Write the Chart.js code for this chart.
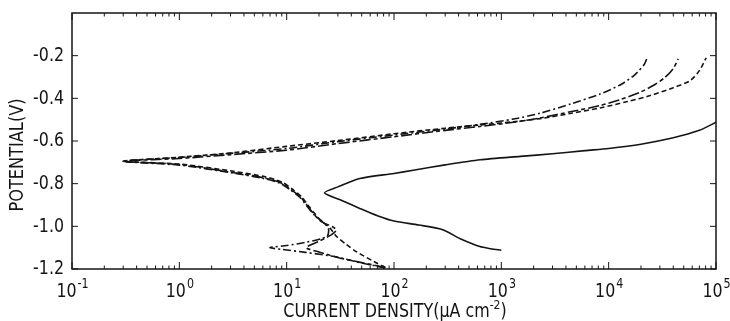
<!DOCTYPE html>
<html>
<head>
<meta charset="utf-8">
<script src="https://cdn.jsdelivr.net/npm/chart.js@4.4.1/dist/chart.umd.min.js"></script>
<style>
  html, body { margin: 0; padding: 0; background: #fff; }
  #wrap { width: 730px; height: 321px; }
</style>
</head>
<body>
<div id="wrap"><canvas id="polChart" width="730" height="321"></canvas></div>
<script>
// Polarization curves: current density (uA cm^-2) vs potential (V)
// Each curve runs from the cathodic end, through Ecorr, to the anodic end.

// dash-dot curve (outer cathodic loop)
const dashDotI = [83, 50, 29.5, 15, 9, 7.0, 10, 15, 21, 24, 24.5, 21.5, 18.2, 15.6, 13.4, 10.9, 8.6, 6, 3, 1, 0.3,
  1, 3, 10, 30, 100, 300, 630, 1300, 2300, 4500, 8300, 13000, 17500, 21500, 23000];
const dashDotE = [-1.195, -1.172, -1.144, -1.122, -1.108, -1.100, -1.090, -1.075, -1.058, -1.045, -1.010, -0.978, -0.948, -0.908, -0.866, -0.830, -0.797, -0.775, -0.748, -0.713, -0.695,
  -0.677, -0.658, -0.635, -0.603, -0.572, -0.544, -0.522, -0.497, -0.470, -0.425, -0.380, -0.335, -0.290, -0.240, -0.205];

// long-dash curve (inner cathodic loop)
const longDashI = [83, 50, 31, 20, 15.2, 20, 26, 29, 27, 21, 18.3, 15.8, 13.6, 11, 8.7, 6, 3, 1, 0.3,
  1, 3, 10, 30, 100, 300, 630, 1300, 2300, 4500, 8300, 13000, 19700, 27000, 33600, 40000, 44500];
const longDashE = [-1.193, -1.170, -1.148, -1.120, -1.100, -1.070, -1.040, -1.018, -1.003, -0.978, -0.948, -0.907, -0.865, -0.828, -0.795, -0.772, -0.746, -0.710, -0.695,
  -0.682, -0.664, -0.643, -0.612, -0.580, -0.550, -0.532, -0.512, -0.492, -0.462, -0.434, -0.405, -0.371, -0.335, -0.301, -0.260, -0.215];

// short-dash curve
const shortDashI = [83, 65, 45, 36, 29.5, 25, 21, 18.6, 16, 13.8, 11.3, 9, 6.3, 3.2, 1, 0.3,
  1, 3, 10, 30, 100, 300, 630, 1300, 2300, 4500, 8300, 15000, 24400, 40000, 57500, 70000, 81000];
const shortDashE = [-1.193, -1.165, -1.120, -1.085, -1.050, -1.005, -0.975, -0.945, -0.905, -0.862, -0.826, -0.792, -0.768, -0.742, -0.708, -0.695,
  -0.676, -0.656, -0.625, -0.598, -0.566, -0.540, -0.525, -0.510, -0.495, -0.470, -0.445, -0.415, -0.387, -0.350, -0.317, -0.270, -0.210];

// solid curve
const solidI = [1000, 800, 630, 430, 280, 170, 100, 70, 48, 33, 22.5,
  30, 48, 100, 151, 300, 634, 1500, 3000, 6000, 10000, 20000, 40000, 70000, 100000];
const solidE = [-1.112, -1.105, -1.095, -1.062, -1.015, -0.994, -0.975, -0.950, -0.916, -0.880, -0.843,
  -0.815, -0.776, -0.752, -0.737, -0.712, -0.688, -0.672, -0.660, -0.645, -0.635, -0.615, -0.585, -0.550, -0.512];

const decadeExps = [-1, 0, 1, 2, 3, 4, 5];
const potentialTicks = [-0.2, -0.4, -0.6, -0.8, -1.0, -1.2];

const FONT = '"Liberation Sans Narrow", "DejaVu Sans Condensed", "Liberation Sans", sans-serif';
const INK = '#141414';

function toPoints(iArr, eArr) {
  return iArr.map((v, k) => ({ x: v, y: eArr[k] }));
}

function curve(iArr, eArr, dash) {
  return {
    data: toPoints(iArr, eArr),
    showLine: true,
    borderColor: INK,
    borderWidth: 1.6,
    borderDash: dash,
    pointRadius: 0,
    tension: 0.25,
    fill: false
  };
}

// text squeezed horizontally, the lettering on this plot is narrow
function squeezed(ctx, text, x, y, size, sx) {
  ctx.save();
  ctx.translate(x, y);
  ctx.scale(sx, 1);
  ctx.font = size + 'px ' + FONT;
  ctx.fillText(text, 0, 0);
  ctx.restore();
}

function textWidth(ctx, text, size, sx) {
  ctx.font = size + 'px ' + FONT;
  return ctx.measureText(text).width * sx;
}

// frame, inward ticks, tick labels and axis titles
const framePlugin = {
  id: 'frame',
  afterDraw(chart) {
    const { ctx, chartArea: a, scales: { x, y } } = chart;
    const seg = (x1, y1, x2, y2) => { ctx.beginPath(); ctx.moveTo(x1, y1); ctx.lineTo(x2, y2); ctx.stroke(); };
    ctx.save();
    ctx.strokeStyle = INK;
    ctx.fillStyle = INK;
    ctx.lineWidth = 1.5;
    ctx.strokeRect(a.left, a.top, a.right - a.left, a.bottom - a.top);

    ctx.lineWidth = 1;
    decadeExps.forEach(p => {
      const base = Math.pow(10, p);
      const px = x.getPixelForValue(base);
      seg(px, a.bottom, px, a.bottom - 7);
      seg(px, a.top, px, a.top + 7);
      if (p < 5) {
        for (let m = 2; m <= 9; m++) {
          const mx = x.getPixelForValue(m * base);
          seg(mx, a.bottom, mx, a.bottom - 3.5);
          seg(mx, a.top, mx, a.top + 3.5);
        }
      }
    });
    potentialTicks.forEach(v => {
      const py = y.getPixelForValue(v);
      seg(a.left, py, a.left + 6, py);
      seg(a.right, py, a.right - 6, py);
    });

    // y tick labels
    ctx.textAlign = 'left';
    ctx.textBaseline = 'middle';
    potentialTicks.forEach(v => {
      const s = v.toFixed(1);
      const w = textWidth(ctx, s, 20, 0.88);
      squeezed(ctx, s, a.left - 8 - w, y.getPixelForValue(v), 20, 0.88);
    });

    // x tick labels, 10 with raised exponent
    ctx.textBaseline = 'alphabetic';
    decadeExps.forEach(p => {
      const px = x.getPixelForValue(Math.pow(10, p));
      const exp = String(p);
      const wBase = textWidth(ctx, '10', 20, 0.88);
      const wExp = textWidth(ctx, exp, 14, 0.88);
      const start = px - (wBase + wExp) / 2;
      squeezed(ctx, '10', start, a.bottom + 28, 20, 0.88);
      squeezed(ctx, exp, start + wBase + 1, a.bottom + 19, 14, 0.88);
    });

    // x axis title with superscript
    const t1 = 'CURRENT DENSITY(\u03bcA cm';
    const t2 = '-2';
    const t3 = ')';
    const w1 = textWidth(ctx, t1, 19, 0.93);
    const w2 = textWidth(ctx, t2, 13, 0.93);
    const w3 = textWidth(ctx, t3, 19, 0.93);
    const cx = (a.left + a.right) / 2 + 1;
    const tx = cx - (w1 + w2 + w3) / 2;
    const base = a.bottom + 48;
    squeezed(ctx, t1, tx, base, 19, 0.93);
    squeezed(ctx, t2, tx + w1, base - 8, 13, 0.93);
    squeezed(ctx, t3, tx + w1 + w2, base, 19, 0.93);

    // y axis title
    ctx.translate(18, 155);
    ctx.rotate(-Math.PI / 2);
    ctx.textBaseline = 'middle';
    const wt = textWidth(ctx, 'POTENTIAL(V)', 20, 0.9);
    squeezed(ctx, 'POTENTIAL(V)', -wt / 2, 0, 20, 0.9);
    ctx.restore();
  }
};

new Chart(document.getElementById('polChart').getContext('2d'), {
  type: 'scatter',
  data: {
    datasets: [
      curve(dashDotI, dashDotE, [8, 3, 2, 3]),
      curve(longDashI, longDashE, [11, 3, 4, 3]),
      curve(shortDashI, shortDashE, [5, 3]),
      curve(solidI, solidE, [])
    ]
  },
  options: {
    responsive: false,
    animation: false,
    devicePixelRatio: 1,
    layout: { padding: { top: 13, right: 14, left: 0, bottom: 0 } },
    plugins: {
      legend: { display: false },
      tooltip: { enabled: false }
    },
    scales: {
      x: {
        type: 'logarithmic',
        min: 0.1,
        max: 100000,
        grid: { display: false },
        border: { display: false },
        ticks: { display: false },
        afterFit(scale) { scale.height = 52; }
      },
      y: {
        type: 'linear',
        min: -1.2,
        max: 0,
        grid: { display: false },
        border: { display: false },
        ticks: { display: false },
        afterFit(scale) { scale.width = 72; }
      }
    }
  },
  plugins: [framePlugin]
});
</script>
</body>
</html>
